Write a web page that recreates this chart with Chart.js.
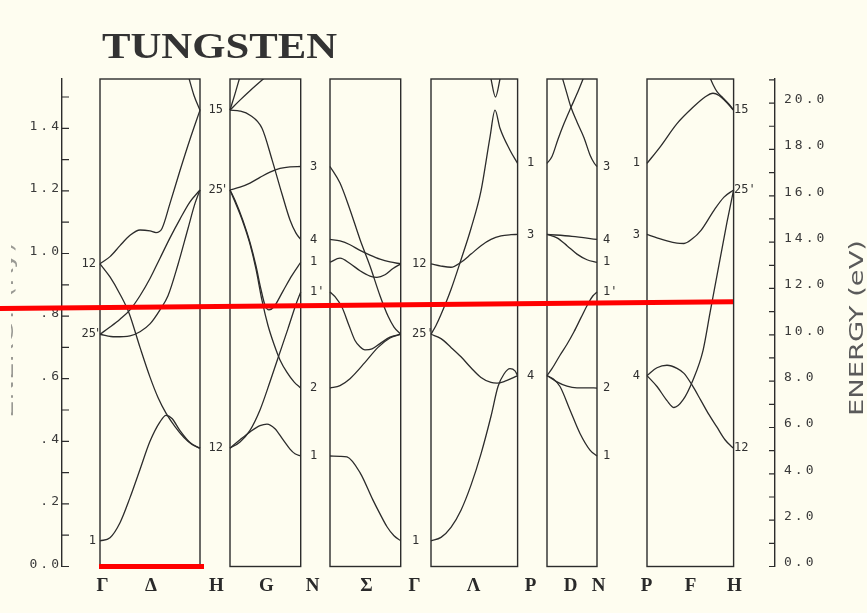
<!DOCTYPE html>
<html>
<head>
<meta charset="utf-8">
<title>Tungsten band structure</title>
<script src="https://cdn.jsdelivr.net/npm/chart.js@4.4.1/dist/chart.umd.min.js"></script>
<style>
  html, body { margin: 0; padding: 0; background: #fefdf0; }
  #wrap { width: 867px; height: 613px; position: relative; }
</style>
</head>
<body>
<div id="wrap"><canvas id="bands" width="867" height="613"></canvas></div>
<script>
// ---- energy levels at the symmetry points (Ry) and their labels ----
const gammaLevels = [0.082, 0.742, 0.967];
const gammaTags   = ['1', "25'", '12'];
const hLevels     = [0.378, 1.203, 1.458];
const hTags       = ['12', "25'", '15'];
const nLevels     = [0.353, 0.570, 0.877, 0.972, 1.045, 1.278];
const nTags       = ['1', '2', "1'", '1', '4', '3'];
const pLevels     = [0.610, 1.061, 1.288];
const pTags       = ['4', '3', '1'];

const [G1, G25, G12] = gammaLevels;
const [H12, H25, H15] = hLevels;
const [N1, N2, N1p, N1b, N4, N3] = nLevels;
const [P4, P3, P1] = pLevels;

// ---- k-path panels (units of 2π/a): start of each panel and its length ----
const panelStart  = [0.38, 1.68, 2.68, 3.69, 4.85, 5.85];
const panelLength = [1.0, 0.7071, 0.7071, 0.8660, 0.5, 0.8660];

// symmetry point names under the axis and where they sit
const kPointNames = ['Γ', 'Δ', 'H', 'G', 'N', 'Σ', 'Γ', 'Λ', 'P', 'D', 'N', 'P', 'F', 'H'];
const kPointX     = [0.42, 0.905, 1.56, 2.06, 2.52, 3.06, 3.54, 4.13, 4.70, 5.10, 5.38, 5.86, 6.30, 6.74];

// energy scale tick values
const ryTicksStep = 0.1;
const evTicksStep = 1;

// Fermi level marker (Ry) at its two ends, and the zero marker under Γ–H
const fermiEnergy = [0.8246, 0.846];
const fermiSpan   = [-0.62, 6.71];
const zeroSpan    = [0.37, 1.42];

// ---- bands, [k, E] within each panel ----
// Γ → H (Δ)
const bandsDelta = [
  [[0, G1], [0.1, 0.092], [0.2, 0.14], [0.3, 0.22], [0.4, 0.31], [0.5, 0.40], [0.6, 0.462], [0.66, 0.483], [0.72, 0.473], [0.8, 0.434], [0.9, 0.396], [1, H12]],
  [[0, G12], [0.1, 0.925], [0.2, 0.87], [0.29, 0.81], [0.4, 0.70], [0.5, 0.605], [0.58, 0.54], [0.66, 0.49], [0.75, 0.447], [0.84, 0.412], [0.92, 0.39], [1, H12]],
  [[0, G12], [0.1, 0.99], [0.2, 1.025], [0.3, 1.058], [0.4, 1.075], [0.5, 1.072], [0.56, 1.067], [0.62, 1.08], [0.7, 1.16], [0.8, 1.265], [0.9, 1.365], [1, H15]],
  [[0, G25], [0.1, 0.765], [0.2, 0.79], [0.3, 0.82], [0.4, 0.865], [0.5, 0.92], [0.6, 0.985], [0.7, 1.05], [0.8, 1.11], [0.9, 1.165], [1, H25]],
  [[0, G25], [0.15, 0.734], [0.3, 0.737], [0.4, 0.75], [0.5, 0.775], [0.6, 0.82], [0.68, 0.865], [0.78, 0.965], [0.88, 1.08], [0.95, 1.16], [1, H25]],
  [[0.885, 1.565], [0.94, 1.505], [1, H15]]
];
// H → N (G)
const bandsG = [
  [[0, H12], [0.1, 0.405], [0.2, 0.43], [0.3, 0.45], [0.37, 0.455], [0.45, 0.44], [0.53, 0.405], [0.6, 0.375], [0.65, 0.36], [0.7071, N1]],
  [[0, H12], [0.1, 0.398], [0.2, 0.435], [0.3, 0.5], [0.4, 0.59], [0.48, 0.666], [0.58, 0.76], [0.66, 0.838], [0.7071, N1p]],
  [[0, H25], [0.05, 1.165], [0.13, 1.1], [0.2, 1.03], [0.26, 0.95], [0.32, 0.85], [0.38, 0.77], [0.44, 0.71], [0.5, 0.66], [0.57, 0.62], [0.64, 0.59], [0.7071, N2]],
  [[0, H25], [0.05, 1.17], [0.13, 1.105], [0.2, 1.035], [0.26, 0.96], [0.31, 0.885], [0.35, 0.835], [0.39, 0.82], [0.44, 0.83], [0.53, 0.88], [0.62, 0.93], [0.7071, N1b]],
  [[0, H25], [0.1, 1.212], [0.2, 1.225], [0.3, 1.243], [0.4, 1.26], [0.5, 1.272], [0.6, 1.277], [0.7071, N3]],
  [[0, H15], [0.1, 1.455], [0.2, 1.442], [0.32, 1.40], [0.42, 1.30], [0.52, 1.19], [0.6, 1.107], [0.66, 1.065], [0.7071, N4]],
  [[0, H15], [0.05, 1.51], [0.1, 1.565]],
  [[0, H15], [0.1, 1.49], [0.2, 1.52], [0.36, 1.565]]
];
// N → Γ (Σ)
const bandsSigma = [
  [[0, N1], [0.1, 0.352], [0.17, 0.35], [0.3, 0.3], [0.43, 0.212], [0.5, 0.168], [0.57, 0.127], [0.64, 0.098], [0.7071, G1]],
  [[0, N2], [0.1, 0.578], [0.2, 0.6], [0.35, 0.652], [0.48, 0.70], [0.6, 0.73], [0.7071, G25]],
  [[0, N1p], [0.05, 0.862], [0.12, 0.828], [0.19, 0.77], [0.25, 0.722], [0.3, 0.702], [0.35, 0.692], [0.42, 0.695], [0.5, 0.712], [0.6, 0.733], [0.7071, G25]],
  [[0, N3], [0.1, 1.225], [0.2, 1.14], [0.3, 1.045], [0.4, 0.96], [0.5, 0.865], [0.58, 0.8], [0.64, 0.765], [0.7071, G25]],
  [[0, N1b], [0.1, 0.985], [0.2, 0.968], [0.3, 0.945], [0.4, 0.928], [0.47, 0.924], [0.55, 0.932], [0.63, 0.952], [0.7071, G12]],
  [[0, N4], [0.1, 1.04], [0.2, 1.028], [0.3, 1.01], [0.4, 0.995], [0.5, 0.982], [0.6, 0.973], [0.7071, G12]]
];
// Γ → P (Λ)
const bandsLambda = [
  [[0, G1], [0.1, 0.093], [0.2, 0.125], [0.3, 0.18], [0.4, 0.26], [0.5, 0.36], [0.6, 0.48], [0.67, 0.575], [0.73, 0.615], [0.79, 0.632], [0.84, 0.625], [0.866, P4]],
  [[0, G25], [0.1, 0.728], [0.2, 0.70], [0.3, 0.67], [0.4, 0.635], [0.5, 0.604], [0.6, 0.588], [0.66, 0.586], [0.74, 0.592], [0.8, 0.6], [0.866, P4]],
  [[0, G25], [0.05, 0.77], [0.1, 0.805], [0.2, 0.885], [0.3, 0.98], [0.4, 1.08], [0.5, 1.2], [0.59, 1.372], [0.64, 1.458], [0.69, 1.40], [0.79, 1.33], [0.866, P1]],
  [[0.595, 1.565], [0.645, 1.50], [0.695, 1.565]],
  [[0, G12], [0.1, 0.96], [0.2, 0.956], [0.3, 0.972], [0.4, 0.998], [0.5, 1.025], [0.6, 1.045], [0.7, 1.056], [0.8, 1.06], [0.866, P3]]
];
// P → N (D)
const bandsD = [
  [[0, P4], [0.06, 0.6], [0.13, 0.575], [0.23, 0.5], [0.33, 0.425], [0.43, 0.372], [0.5, N1]],
  [[0, P4], [0.1, 0.59], [0.2, 0.576], [0.3, 0.571], [0.4, 0.571], [0.5, N2]],
  [[0, P4], [0.05, 0.632], [0.13, 0.675], [0.2, 0.71], [0.27, 0.75], [0.34, 0.795], [0.42, 0.845], [0.46, 0.865], [0.5, N1p]],
  [[0, P3], [0.25, 1.055], [0.5, N4]],
  [[0, P3], [0.1, 1.05], [0.2, 1.025], [0.3, 0.998], [0.4, 0.98], [0.5, N1b]],
  [[0, P1], [0.05, 1.31], [0.11, 1.365], [0.17, 1.415], [0.24, 1.467], [0.3, 1.51], [0.37, 1.565]],
  [[0.15, 1.565], [0.2, 1.51], [0.24, 1.467], [0.3, 1.42], [0.37, 1.37], [0.43, 1.315], [0.47, 1.29], [0.5, N3]]
];
// P → H (F)
const bandsF = [
  [[0, P4], [0.1, 0.635], [0.2, 0.643], [0.3, 0.633], [0.37, 0.617], [0.45, 0.58], [0.54, 0.53], [0.62, 0.485], [0.7, 0.445], [0.78, 0.405], [0.84, 0.385], [0.866, H12]],
  [[0, P4], [0.1, 0.575], [0.2, 0.53], [0.27, 0.508], [0.36, 0.532], [0.46, 0.596], [0.56, 0.69], [0.63, 0.81], [0.7, 0.93], [0.8, 1.1], [0.866, H25]],
  [[0, P3], [0.1, 1.05], [0.2, 1.04], [0.3, 1.033], [0.37, 1.032], [0.45, 1.046], [0.54, 1.074], [0.67, 1.138], [0.77, 1.18], [0.866, H25]],
  [[0, P1], [0.13, 1.34], [0.3, 1.415], [0.46, 1.467], [0.58, 1.5], [0.66, 1.512], [0.72, 1.505], [0.78, 1.488], [0.866, H15]],
  [[0.625, 1.565], [0.66, 1.54], [0.7, 1.517], [0.76, 1.497], [0.82, 1.477], [0.866, H15]]
];

const panelBands = [bandsDelta, bandsG, bandsSigma, bandsLambda, bandsD, bandsF];

// label columns beside the frames: [k position, alignment, levels, tags]
const tagCols = [
  [0.34, 'right', gammaLevels, gammaTags],
  [1.61, 'right', hLevels, hTags],
  [2.48, 'left', nLevels, nTags],
  [3.50, 'left', gammaLevels, gammaTags],
  [4.65, 'left', pLevels, pTags],
  [5.41, 'left', nLevels, nTags],
  [5.78, 'right', pLevels, pTags],
  [6.72, 'left', hLevels, hTags]
];

const INK = '#2c2c2c';
const RED = '#ff0000';

const datasets = [];
panelBands.forEach((bands, p) => {
  bands.forEach(b => datasets.push({
    data: b.map(([k, e]) => ({ x: panelStart[p] + k, y: e })),
    yAxisID: 'y',
    borderColor: INK,
    borderWidth: 1.3,
    pointRadius: 0,
    fill: false,
    cubicInterpolationMode: 'monotone'
  }));
});
datasets.push({
  data: [{ x: fermiSpan[0], y: fermiEnergy[0] }, { x: fermiSpan[1], y: fermiEnergy[1] }],
  yAxisID: 'y', borderColor: RED, borderWidth: 5, pointRadius: 0, fill: false, clip: false, order: -1
});
datasets.push({
  data: [{ x: zeroSpan[0], y: 0 }, { x: zeroSpan[1], y: 0 }],
  yAxisID: 'y', borderColor: RED, borderWidth: 5, pointRadius: 0, fill: false, clip: false, order: -1
});

function ryLabel(v) {
  const r = Math.round(v * 10);
  if (r % 2) return '';
  if (r === 0) return '0.0';
  return r < 10 ? '.' + r : (r / 10).toFixed(1);
}

const decor = {
  id: 'decor',
  beforeDraw(chart) {
    chart.ctx.letterSpacing = '3px';
  },
  beforeDatasetsDraw(chart) {
    const { ctx, chartArea: a, scales: { x, y, y2 } } = chart;
    ctx.letterSpacing = '0px';
    ctx.save();
    ctx.strokeStyle = INK;
    ctx.lineWidth = 1.4;
    panelStart.forEach((s, i) => {
      const l = x.getPixelForValue(s);
      const r = x.getPixelForValue(s + panelLength[i]);
      ctx.strokeRect(l, a.top, r - l, a.bottom - a.top);
    });
    // tick marks pointing into the plot
    ctx.lineWidth = 1.2;
    ctx.beginPath();
    y.ticks.forEach(t => {
      const py = y.getPixelForValue(t.value);
      ctx.moveTo(a.left, py); ctx.lineTo(a.left + 7, py);
    });
    y2.ticks.forEach(t => {
      const py = y2.getPixelForValue(t.value);
      ctx.moveTo(a.right - 6, py); ctx.lineTo(a.right, py);
    });
    ctx.stroke();
    ctx.restore();
  },
  afterDraw(chart) {
    const { ctx, scales: { x, y } } = chart;
    ctx.save();
    ctx.letterSpacing = '0px';

    // symmetry labels of the levels
    ctx.fillStyle = '#303030';
    ctx.font = '12px "DejaVu Sans Mono", monospace';
    ctx.textBaseline = 'middle';
    tagCols.forEach(([kx, align, levels, tags]) => {
      const px = x.getPixelForValue(kx);
      levels.forEach((e, i) => {
        const py = y.getPixelForValue(e);
        const t = tags[i];
        if (align === 'right' && t.endsWith("'")) {
          ctx.textAlign = 'right';
          ctx.fillText(t.slice(0, -1), px, py);
          ctx.textAlign = 'left';
          ctx.fillText("'", px - 2, py);
        } else {
          ctx.textAlign = align;
          ctx.fillText(t, px, py);
        }
      });
    });

    // title
    ctx.fillStyle = '#333';
    ctx.font = 'bold 35px "Liberation Serif", serif';
    ctx.textAlign = 'left';
    ctx.textBaseline = 'alphabetic';
    const title = 'TUNGSTEN';
    const tw = ctx.measureText(title).width;
    ctx.save();
    ctx.translate(102, 58);
    ctx.scale(235 / tw, 1);
    ctx.fillText(title, 0, 0);
    ctx.restore();

    // right axis title
    ctx.save();
    ctx.fillStyle = '#5a5a5a';
    ctx.font = '20px "DejaVu Sans", sans-serif';
    ctx.textAlign = 'center';
    ctx.textBaseline = 'middle';
    const rt = 'ENERGY (eV)';
    const rw = ctx.measureText(rt).width;
    ctx.translate(858, 328);
    ctx.rotate(-Math.PI / 2);
    ctx.scale(176 / rw, 1);
    ctx.fillText(rt, 0, 0);
    ctx.restore();

    // left axis title, mostly cut off by the page edge
    ctx.save();
    ctx.beginPath();
    ctx.rect(11, 200, 20, 260);
    ctx.clip();
    ctx.fillStyle = '#9a9a94';
    ctx.font = '20px "DejaVu Sans", sans-serif';
    ctx.textAlign = 'center';
    ctx.textBaseline = 'middle';
    const lt = 'ENERGY (Ry)';
    const lw = ctx.measureText(lt).width;
    ctx.translate(8, 330);
    ctx.rotate(-Math.PI / 2);
    ctx.scale(176 / lw, 1);
    ctx.fillText(lt, 0, 0);
    ctx.restore();

    ctx.restore();
  }
};

new Chart(document.getElementById('bands'), {
  type: 'line',
  data: { datasets },
  options: {
    responsive: false,
    animation: false,
    devicePixelRatio: 1,
    events: [],
    layout: { padding: { top: 79, left: 0, right: 0, bottom: 0 } },
    plugins: {
      legend: { display: false },
      tooltip: { enabled: false },
      title: { display: false }
    },
    scales: {
      x: {
        type: 'linear',
        position: 'bottom',
        min: 0,
        max: 7.13,
        grid: { display: false, drawTicks: false },
        border: { display: false },
        afterBuildTicks: s => { s.ticks = kPointX.map(v => ({ value: v })); },
        afterFit: s => { s.height = 46.5; },
        ticks: {
          autoSkip: false,
          maxRotation: 0,
          minRotation: 0,
          padding: 8,
          color: '#2a2a2a',
          font: { family: '"Liberation Serif", serif', size: 19, weight: 'bold' },
          callback: (v, i) => kPointNames[i]
        }
      },
      y: {
        type: 'linear',
        position: 'left',
        min: 0,
        max: 1.5575,
        grid: { display: false, drawTicks: false },
        border: { display: true, color: INK, width: 1.4 },
        afterFit: s => { s.width = 62; },
        ticks: {
          stepSize: ryTicksStep,
          includeBounds: false,
          autoSkip: false,
          padding: 0,
          labelOffset: -2,
          color: '#3a3a3a',
          font: { family: '"DejaVu Sans Mono", monospace', size: 13 },
          callback: v => ryLabel(v)
        }
      },
      y2: {
        type: 'linear',
        position: 'right',
        min: 0,
        max: 21.04,
        grid: { display: false, drawTicks: false },
        border: { display: true, color: INK, width: 1.4 },
        afterFit: s => { s.width = 92; },
        ticks: {
          stepSize: evTicksStep,
          includeBounds: false,
          autoSkip: false,
          padding: 9,
          labelOffset: -3.5,
          color: '#3a3a3a',
          font: { family: '"DejaVu Sans Mono", monospace', size: 13 },
          callback: v => (Math.round(v) % 2 ? '' : Number(v).toFixed(1))
        }
      }
    }
  },
  plugins: [decor]
});
</script>
</body>
</html>
